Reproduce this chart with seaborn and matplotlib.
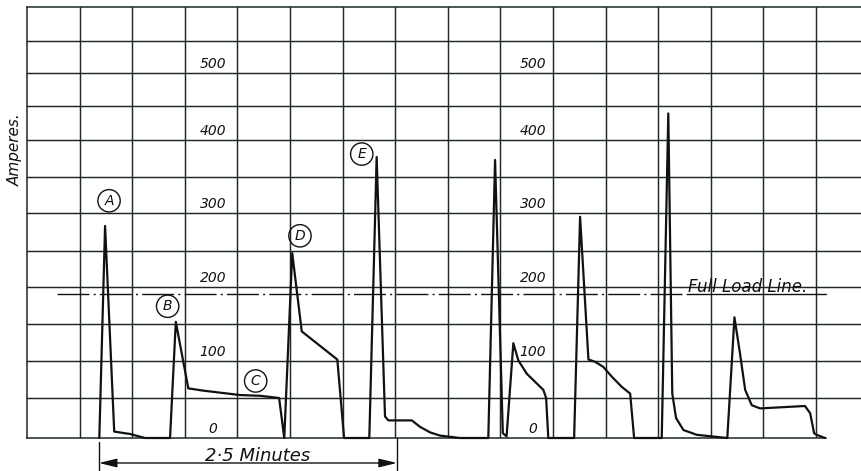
import numpy as np
import pandas as pd
import matplotlib
matplotlib.use("Agg")
import matplotlib.pyplot as plt
import seaborn as sns

# ---------------- data (read from the recording) ----------------
time_s = [36.4, 39.3, 43.9, 51.9, 59.4, 72.0, 74.9, 81.2, 88.6, 107.2,
          117.3, 126.9, 129.5, 133.5, 138.3, 156.2, 159.6, 172.3, 176.0, 180.2,
          181.9, 193.7, 197.8, 202.9, 207.9, 218.0, 232.2, 235.6, 239.5, 241.4,
          244.8, 247.3, 251.5, 259.9, 261.3, 262.4, 275.4, 278.4, 282.6, 285.9,
          290.1, 294.3, 299.4, 303.6, 305.6, 319.5, 322.8, 324.8, 326.7, 330.4,
          337.1, 344.7, 352.5, 356.1, 358.9, 361.5, 364.8, 369.0, 391.6, 394.2,
          396.2, 397.5, 401.7]
amperes = [0, 283, 8, 5, 0, 0, 153, 63, 60, 54,
           53, 50, 0, 247, 140, 102, 0, 0, 377, 27,
           22, 22, 14, 7, 3, 0, 0, 373, 6, 2,
           124, 101, 83, 61, 50, 0, 0, 295, 102, 99,
           92, 79, 65, 56, 0, 0, 439, 56, 25, 10,
           4, 2, 0, 159, 110, 61, 41, 37, 40, 31,
           6, 4, 0]
full_load_amps = 190
scale_labels = [0, 100, 200, 300, 400, 500]
peak_letters = ["A", "B", "C", "D", "E"]
letter_time = [41.3, 70.8, 115.1, 137.4, 168.5]
letter_amps = [317, 174, 73, 270, 381]
span_start_s, span_end_s = 36.2, 186.2
span_text = "2·5 Minutes"

# ---------------- style ----------------
sns.set_style("white")
plt.rcParams["font.family"] = ["DejaVu Sans"]
INK = "#111111"
GRID = "#1d2a22"

# hand-ruled chart paper: gridline positions (pixels above base) for 0..600 A
AMP_KNOTS = np.arange(0, 650, 50)
PIX_KNOTS = np.array([0, 40, 77, 114, 151, 187, 225, 261, 298, 332, 365, 397, 431], float)

def fwd(a):
    return np.interp(a, AMP_KNOTS, PIX_KNOTS)

def inv(p):
    return np.interp(p, PIX_KNOTS, AMP_KNOTS)

fig = plt.figure(figsize=(8.61, 4.71), dpi=100)
ax = fig.add_axes([27 / 861, 33 / 471, 834 / 861, 431 / 471])
ax.set_yscale("function", functions=(fwd, inv))

def t_px(px):
    return (px - 27) * 150 / 298

cell = 52.6 * 150 / 298
xmax = t_px(861)
ax.set_xlim(0, xmax)
ax.set_ylim(0, 600)
ax.set_xticks(np.arange(1, 16) * cell)
ax.set_yticks(np.arange(50, 600, 50))
ax.yaxis.set_minor_locator(matplotlib.ticker.NullLocator())
ax.grid(True, color=GRID, lw=1.05)
ax.tick_params(length=0, labelbottom=False, labelleft=False)
for s in ["left", "top", "bottom"]:
    ax.spines[s].set_color(GRID)
    ax.spines[s].set_linewidth(1.1)
ax.spines["right"].set_visible(False)
ax.spines["bottom"].set_bounds(0, t_px(826))

df = pd.DataFrame({"t": time_s, "A": amperes})
sns.lineplot(data=df, x="t", y="A", ax=ax, color=INK, lw=1.6,
             estimator=None, sort=False, clip_on=False, zorder=5)
ax.set_xlabel("")
ax.set_ylabel("")

# full load line
ax.plot([t_px(57), t_px(687)], [full_load_amps] * 2, color=INK, lw=1.0,
        ls=(0, (23, 3, 1.5, 3)), zorder=4)
ax.plot([t_px(687), t_px(826)], [full_load_amps] * 2, color=INK, lw=1.0, zorder=4)
ax.annotate("Full Load Line.", xy=(t_px(688), full_load_amps), xytext=(0, 2),
            textcoords="offset points", ha="left", va="baseline",
            fontsize=12, style="italic", color=INK)

# in-chart ampere scales
for xc in (t_px(213), t_px(533)):
    for v in scale_labels:
        ax.annotate(str(v), xy=(xc, v), xytext=(0, 1.5), textcoords="offset points",
                    ha="center", va="bottom", fontsize=10, style="italic", color=INK)

# circled letters
for lab, x, y in zip(peak_letters, letter_time, letter_amps):
    ax.text(x, y, lab, ha="center", va="center", fontsize=10, style="italic",
            color=INK, zorder=6,
            bbox=dict(boxstyle="circle,pad=0.3", fc="none", ec=INK, lw=1.0))

# time span arrow below the chart
tr = ax.get_xaxis_transform()
def yf(py):
    return (438 - py) / 431

ax.plot([span_start_s] * 2, [yf(442), yf(475)], transform=tr, color=INK,
        lw=1.0, clip_on=False)
ax.plot([span_end_s] * 2, [yf(438), yf(475)], transform=tr, color=INK,
        lw=1.0, clip_on=False)
ax.annotate("", xy=(span_start_s, yf(463)), xytext=(span_end_s, yf(463)),
            xycoords=tr, textcoords=tr, annotation_clip=False,
            arrowprops=dict(arrowstyle="<|-|>,head_length=0.9,head_width=0.22",
                            mutation_scale=12, lw=1.0, color=INK,
                            shrinkA=0, shrinkB=0))
ax.text(t_px(258), yf(461), span_text, transform=tr, ha="center", va="baseline",
        fontsize=13, style="italic", color=INK, clip_on=False)

fig.text(15 / 861, (471 - 150) / 471, "Amperes.", rotation=90, ha="center",
         va="center", fontsize=11, style="italic", color=INK)

fig.savefig("out.png", dpi=100, facecolor="white")
